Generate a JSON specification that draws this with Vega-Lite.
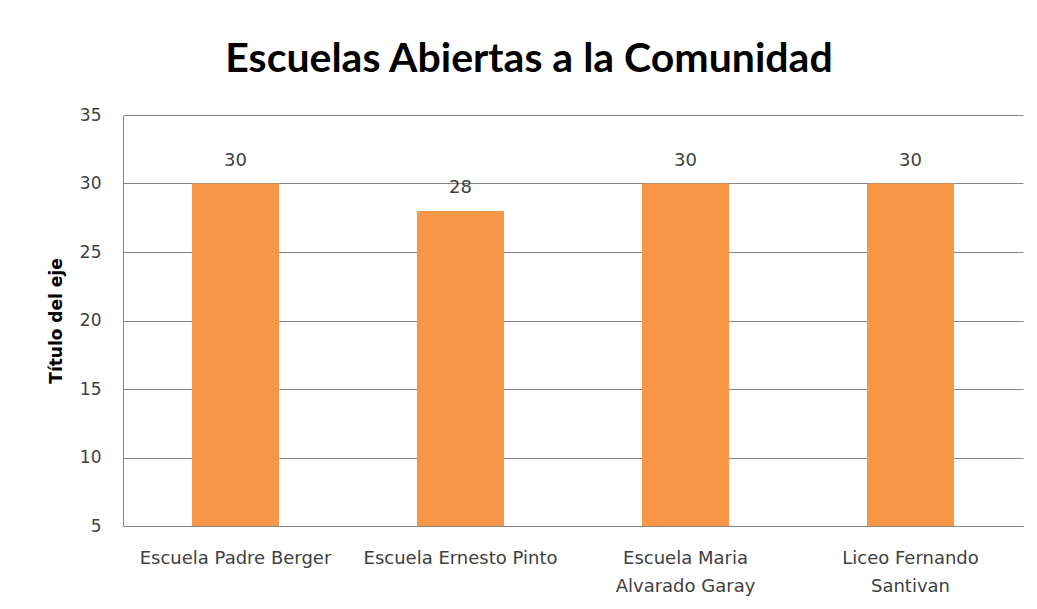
{
  "$schema": "https://vega.github.io/schema/vega-lite/v6.json",
  "autosize": "none",
  "width": 900,
  "height": 411,
  "padding": {"left": 123, "top": 115, "right": 14, "bottom": 83},
  "background": "white",
  "title": {
    "text": "Escuelas Abiertas a la Comunidad",
    "font": "Lato",
    "fontSize": 41,
    "fontWeight": "bold",
    "color": "#000000",
    "anchor": "middle",
    "frame": "group",
    "dx": -44,
    "offset": 25
  },
  "data": {
    "values": [
      {"escuela": "Escuela Padre Berger", "valor": 30},
      {"escuela": "Escuela Ernesto Pinto", "valor": 28},
      {"escuela": "Escuela Maria Alvarado Garay", "valor": 30},
      {"escuela": "Liceo Fernando Santivan", "valor": 30}
    ]
  },
  "encoding": {
    "x": {
      "field": "escuela",
      "type": "nominal",
      "sort": null,
      "scale": {"paddingInner": 0, "paddingOuter": 0},
      "axis": {
        "title": null,
        "labelAngle": 0,
        "ticks": false,
        "domainColor": "#868686",
        "labelFont": "DejaVu Sans",
        "labelFontSize": 18,
        "labelColor": "#404040",
        "labelPadding": 23,
        "labelLineHeight": 28,
        "labelLimit": 400,
        "labelOverlap": false,
        "labelExpr": "datum.value == 'Escuela Maria Alvarado Garay' ? ['Escuela Maria', 'Alvarado Garay'] : datum.value == 'Liceo Fernando Santivan' ? ['Liceo Fernando', 'Santivan'] : datum.value"
      }
    }
  },
  "layer": [
    {
      "mark": {"type": "bar", "color": "#F79646", "width": {"band": 0.387}},
      "encoding": {
        "y": {
          "field": "valor",
          "type": "quantitative",
          "scale": {"domain": [5, 35], "zero": false, "nice": false},
          "axis": {
            "values": [5, 10, 15, 20, 25, 30, 35],
            "title": "Título del eje",
            "titleFont": "DejaVu Sans",
            "titleFontSize": 17,
            "titleFontWeight": "bold",
            "titleColor": "#000000",
            "titlePadding": 14,
            "ticks": false,
            "grid": true,
            "gridColor": "#868686",
            "domainColor": "#868686",
            "labelFont": "DejaVu Sans",
            "labelFontSize": 17,
            "labelColor": "#404040",
            "labelPadding": 22
          }
        },
        "y2": {"datum": 5}
      }
    },
    {
      "mark": {"type": "text", "font": "DejaVu Sans", "fontSize": 18, "color": "#404040", "baseline": "bottom", "dy": -14},
      "encoding": {
        "y": {"field": "valor", "type": "quantitative"},
        "text": {"field": "valor", "type": "quantitative"}
      }
    }
  ],
  "config": {
    "view": {"stroke": null}
  }
}
